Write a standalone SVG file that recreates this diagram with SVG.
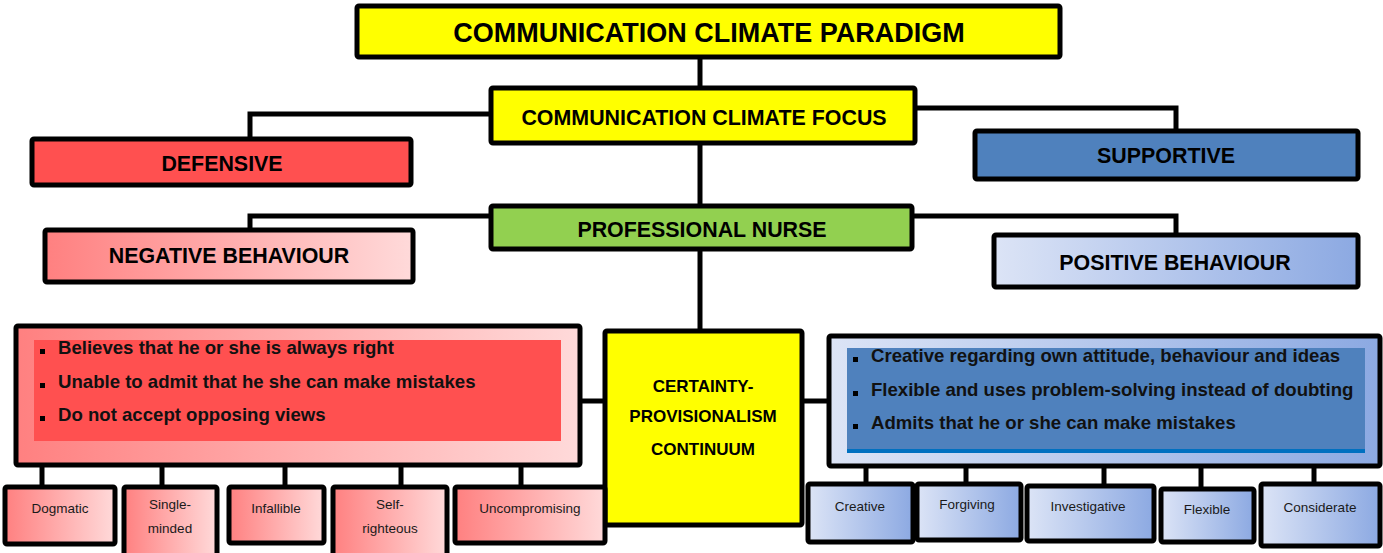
<svg xmlns="http://www.w3.org/2000/svg" width="1383" height="553" viewBox="0 0 1383 553">
  <defs>
    <linearGradient id="redGrad" x1="0" y1="0" x2="1" y2="0">
      <stop offset="0" stop-color="#FF8080"/>
      <stop offset="1" stop-color="#FFDADA"/>
    </linearGradient>
    <linearGradient id="blueGrad" x1="0" y1="0" x2="1" y2="0">
      <stop offset="0" stop-color="#DCE4F6"/>
      <stop offset="1" stop-color="#8CA9E2"/>
    </linearGradient>
    <style>
      .box { stroke: #000; stroke-width: 5; }
      .yellow { fill: #FFFF00; }
      .green { fill: #92D050; }
      .red { fill: #FF5050; }
      .blue { fill: #4F81BD; }
      .redg { fill: url(#redGrad); }
      .blueg { fill: url(#blueGrad); }
      .conn { fill: none; stroke: #000; stroke-width: 5; }
      .t { font-family: "Liberation Sans", Arial, sans-serif; font-weight: bold; fill: #000; text-anchor: middle; }
      .h { font-size: 21.4px; }
      .b { font-family: "Liberation Sans", Arial, sans-serif; font-weight: bold; fill: #111; font-size: 18.6px; }
      .s { font-family: "Liberation Sans", Arial, sans-serif; fill: #1a1a1a; font-size: 13.5px; text-anchor: middle; }
      .sq { fill: #000; }
    </style>
  </defs>

  <g id="connectors">
    <path class="conn" d="M700,57 V87"/>
    <path class="conn" d="M490,114 H250 V138"/>
    <path class="conn" d="M915,108 H1176 V131"/>
    <path class="conn" d="M700,143 V205"/>
    <path class="conn" d="M490,216 H250 V229"/>
    <path class="conn" d="M912,216 H1176 V234"/>
    <path class="conn" d="M700,249 V330"/>
    <path class="conn" d="M581,401 H604"/>
    <path class="conn" d="M802,401 H828"/>
    <path class="conn" d="M42,465 V487"/>
    <path class="conn" d="M162,465 V487"/>
    <path class="conn" d="M285,465 V487"/>
    <path class="conn" d="M401,465 V487"/>
    <path class="conn" d="M521,465 V487"/>
    <path class="conn" d="M866,466 V484"/>
    <path class="conn" d="M966,466 V484"/>
    <path class="conn" d="M1104,466 V486"/>
    <path class="conn" d="M1201,466 V489"/>
    <path class="conn" d="M1314,466 V484"/>
  </g>

  <g id="paradigm">
    <rect class="box yellow" x="357" y="6" width="703" height="51" rx="2"/>
    <text class="t" x="709" y="42" font-size="27">COMMUNICATION CLIMATE PARADIGM</text>
  </g>

  <g id="focus">
    <rect class="box yellow" x="491" y="88" width="424" height="55" rx="2"/>
    <text class="t h" x="704" y="125">COMMUNICATION CLIMATE FOCUS</text>
  </g>

  <g id="defensive">
    <rect class="box red" x="32" y="139" width="379" height="46" rx="2"/>
    <text class="t h" x="222" y="171">DEFENSIVE</text>
  </g>

  <g id="supportive">
    <rect class="box blue" x="975" y="131" width="383" height="48" rx="2"/>
    <text class="t h" x="1166" y="163">SUPPORTIVE</text>
  </g>

  <g id="professional-nurse">
    <rect class="box green" x="491" y="206" width="421" height="43" rx="2"/>
    <text class="t h" x="702" y="237">PROFESSIONAL NURSE</text>
  </g>

  <g id="negative-behaviour">
    <rect class="box redg" x="45" y="230" width="368" height="52" rx="2"/>
    <text class="t h" x="229" y="263">NEGATIVE BEHAVIOUR</text>
  </g>

  <g id="positive-behaviour">
    <rect class="box blueg" x="994" y="235" width="364" height="52" rx="2"/>
    <text class="t h" x="1175" y="270">POSITIVE BEHAVIOUR</text>
  </g>

  <g id="continuum">
    <rect class="box yellow" x="605" y="331" width="197" height="194" rx="2"/>
    <text class="t" x="703" y="392" font-size="17">CERTAINTY-</text>
    <text class="t" x="703" y="422" font-size="17">PROVISIONALISM</text>
    <text class="t" x="703" y="455" font-size="17">CONTINUUM</text>
  </g>

  <g id="negative-traits">
    <rect class="box redg" x="16" y="326" width="564" height="139" rx="2"/>
    <rect class="red" x="34" y="340" width="527" height="101"/>
    <rect class="sq" x="40" y="349" width="5" height="5"/>
    <text class="b" x="58" y="354">Believes that he or she is always right</text>
    <rect class="sq" x="40" y="383" width="5" height="5"/>
    <text class="b" x="58" y="388">Unable to admit that he she can make mistakes</text>
    <rect class="sq" x="40" y="416" width="5" height="5"/>
    <text class="b" x="58" y="421">Do not accept opposing views</text>
  </g>

  <g id="positive-traits">
    <rect class="box blueg" x="829" y="336" width="551" height="130" rx="2"/>
    <rect class="blue" x="847" y="348" width="518" height="105"/>
    <rect fill="#0070C0" x="847" y="449" width="518" height="4"/>
    <rect class="sq" x="853" y="357" width="5" height="5"/>
    <text class="b" x="871" y="362">Creative regarding own attitude, behaviour and ideas</text>
    <rect class="sq" x="853" y="391" width="5" height="5"/>
    <text class="b" x="871" y="396">Flexible and uses problem-solving instead of doubting</text>
    <rect class="sq" x="853" y="424" width="5" height="5"/>
    <text class="b" x="871" y="429">Admits that he or she can make mistakes</text>
  </g>

  <g id="dogmatic">
    <rect class="box redg" x="5" y="487" width="110" height="57" rx="2"/>
    <text class="s" x="60" y="513">Dogmatic</text>
  </g>
  <g id="single-minded">
    <rect class="box redg" x="124" y="487" width="93" height="70" rx="2"/>
    <text class="s" x="170" y="509">Single-</text>
    <text class="s" x="170" y="533">minded</text>
  </g>
  <g id="infallible">
    <rect class="box redg" x="229" y="487" width="95" height="56" rx="2"/>
    <text class="s" x="276" y="513">Infallible</text>
  </g>
  <g id="self-righteous">
    <rect class="box redg" x="333" y="487" width="114" height="70" rx="2"/>
    <text class="s" x="390" y="509">Self-</text>
    <text class="s" x="390" y="533">righteous</text>
  </g>
  <g id="uncompromising">
    <rect class="box redg" x="455" y="487" width="150" height="56" rx="2"/>
    <text class="s" x="530" y="513">Uncompromising</text>
  </g>

  <g id="creative">
    <rect class="box blueg" x="808" y="484" width="105" height="58" rx="2"/>
    <text class="s" x="860" y="511">Creative</text>
  </g>
  <g id="forgiving">
    <rect class="box blueg" x="917" y="484" width="104" height="56" rx="2"/>
    <text class="s" x="967" y="509">Forgiving</text>
  </g>
  <g id="investigative">
    <rect class="box blueg" x="1027" y="486" width="127" height="55" rx="2"/>
    <text class="s" x="1088" y="511">Investigative</text>
  </g>
  <g id="flexible">
    <rect class="box blueg" x="1161" y="489" width="93" height="53" rx="2"/>
    <text class="s" x="1207" y="514">Flexible</text>
  </g>
  <g id="considerate">
    <rect class="box blueg" x="1261" y="484" width="119" height="62" rx="2"/>
    <text class="s" x="1320" y="512">Considerate</text>
  </g>
</svg>
